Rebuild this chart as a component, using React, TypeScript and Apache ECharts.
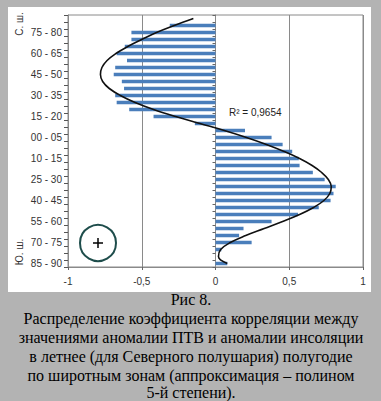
import React, { useEffect, useRef } from "react";
import * as echarts from "echarts";

const zoneLabels = [
  "85 - 90", "80 - 85", "75 - 80", "70 - 75", "65 - 70", "60 - 65", "55 - 60", "50 - 55", "45 - 50",
  "40 - 45", "35 - 40", "30 - 35", "25 - 30", "20 - 25", "15 - 20", "10 - 15", "05 - 10", "00 - 05",
  "00 - 05", "05 - 10", "10 - 15", "15 - 20", "20 - 25", "25 - 30", "30 - 35", "35 - 40", "40 - 45",
  "45 - 50", "50 - 55", "55 - 60", "60 - 65", "65 - 70", "70 - 75", "75 - 80", "80 - 85", "85 - 90",
];

const correlation = [
  null, -0.31, -0.57, -0.57, -0.615, -0.67, -0.6, -0.68, -0.69, -0.635, -0.62, -0.68, -0.67, -0.585,
  -0.42, -0.14, 0.2, 0.38, 0.455, 0.52, 0.565, 0.57, 0.66, 0.74, 0.815, 0.8, 0.78, 0.7, 0.56, 0.38,
  0.19, 0.16, 0.245, 0.04, null, 0.08,
];

const trend = [
  -0.15, -0.28, -0.4, -0.5, -0.595, -0.675, -0.735, -0.77, -0.78, -0.765, -0.72, -0.645, -0.545, -0.42,
  -0.27, -0.105, 0.06, 0.21, 0.345, 0.465, 0.57, 0.655, 0.72, 0.765, 0.785, 0.775, 0.735, 0.665, 0.57,
  0.455, 0.33, 0.205, 0.1, 0.035, 0.02, 0.08,
];

const captionLines = [
  "Рис 8.",
  "Распределение коэффициента корреляции между",
  "значениями аномалии ПТВ и аномалии инсоляции",
  "в летнее (для Северного полушария) полугодие",
  "по широтным зонам (аппроксимация – полином",
  "5-й степени).",
];

const r2Label = "R² = 0,9654";
const northLabel = "С. ш.";
const southLabel = "Ю. ш.";

export default function App() {
  const ref = useRef<HTMLDivElement>(null);
  useEffect(() => {
    const chart = echarts.init(ref.current!, null, { renderer: "svg" });
    const sans = "'Liberation Sans', Arial, sans-serif";
    const serif = "'Liberation Serif', 'Times New Roman', serif";
    const captionY = [299.5, 318.5, 337.5, 356.5, 375, 392.5];
    chart.setOption({
      animation: false,
      backgroundColor: "transparent",
      grid: {
        left: 68,
        right: 18,
        top: 15,
        bottom: 134,
        show: true,
        backgroundColor: "#ffffff",
        borderColor: "#8a8a8a",
        borderWidth: 1,
      },
      xAxis: {
        type: "value",
        min: -1,
        max: 1,
        interval: 0.5,
        axisLine: { show: true, lineStyle: { color: "#8a8a8a" } },
        axisTick: { show: true, length: 3, lineStyle: { color: "#666" } },
        splitLine: { show: true, lineStyle: { color: "#8a8a8a", width: 1 } },
        axisLabel: {
          fontSize: 10,
          color: "#333",
          fontFamily: sans,
          margin: 9,
          formatter: (v: number) => String(v).replace(".", ","),
        },
      },
      yAxis: [
        {
          type: "category",
          data: zoneLabels,
          inverse: true,
          position: "left",
          axisLine: { onZero: false, lineStyle: { color: "#8a8a8a" } },
          axisTick: { show: true, interval: 0, length: 4, lineStyle: { color: "#555" } },
          axisLabel: {
            interval: (i: number) => i % 3 === 2,
            fontSize: 10,
            color: "#333",
            fontFamily: sans,
            margin: 6,
          },
          splitLine: { show: false },
        },
        {
          type: "category",
          data: zoneLabels,
          inverse: true,
          position: "left",
          axisLine: { onZero: true, lineStyle: { color: "#8a8a8a" } },
          axisTick: { show: true, interval: 0, length: 3, lineStyle: { color: "#666" } },
          axisLabel: { show: false },
          splitLine: { show: false },
        },
      ],
      series: [
        {
          type: "bar",
          yAxisIndex: 0,
          data: correlation,
          barWidth: "50%",
          itemStyle: { color: "#4a7ebb" },
          z: 2,
        },
        {
          type: "line",
          yAxisIndex: 0,
          data: trend,
          smooth: 0.4,
          symbol: "none",
          lineStyle: { color: "#111", width: 1.6 },
          z: 3,
        },
      ],
      graphic: [
        {
          type: "text",
          x: 229,
          y: 112,
          style: { text: r2Label, font: `10px ${sans}`, fill: "#222", textVerticalAlign: "middle" },
        },
        {
          type: "text",
          x: 19,
          y: 24,
          rotation: Math.PI / 2,
          style: {
            text: northLabel,
            font: `10px ${sans}`,
            fill: "#333",
            textAlign: "center",
            textVerticalAlign: "middle",
          },
        },
        {
          type: "text",
          x: 19,
          y: 252,
          rotation: Math.PI / 2,
          style: {
            text: southLabel,
            font: `10px ${sans}`,
            fill: "#333",
            textAlign: "center",
            textVerticalAlign: "middle",
          },
        },
        {
          type: "circle",
          shape: { cx: 98, cy: 243, r: 18 },
          style: { stroke: "#1e4d4b", lineWidth: 2, fill: "rgba(0,0,0,0)" },
          z: 10,
        },
        {
          type: "line",
          shape: { x1: 93, y1: 243, x2: 103, y2: 243 },
          style: { stroke: "#000", lineWidth: 1.5 },
          z: 10,
        },
        {
          type: "line",
          shape: { x1: 98, y1: 238, x2: 98, y2: 248 },
          style: { stroke: "#000", lineWidth: 1.5 },
          z: 10,
        },
        ...captionLines.map((t, i) => ({
          type: "text",
          x: 191,
          y: captionY[i],
          style: {
            text: t,
            font: `16px ${serif}`,
            fill: "#000",
            textAlign: "center",
            textVerticalAlign: "middle",
          },
        })),
      ],
    });
    return () => chart.dispose();
  }, []);
  return (
    <div style={{ position: "fixed", left: 0, top: 0, width: 381, height: 401, background: "#b3b3b3" }}>
      <div style={{ position: "absolute", left: 8, top: 7, width: 363, height: 285, background: "#ffffff" }} />
      <div ref={ref} style={{ position: "absolute", left: 0, top: 0, width: 381, height: 401 }} />
    </div>
  );
}
